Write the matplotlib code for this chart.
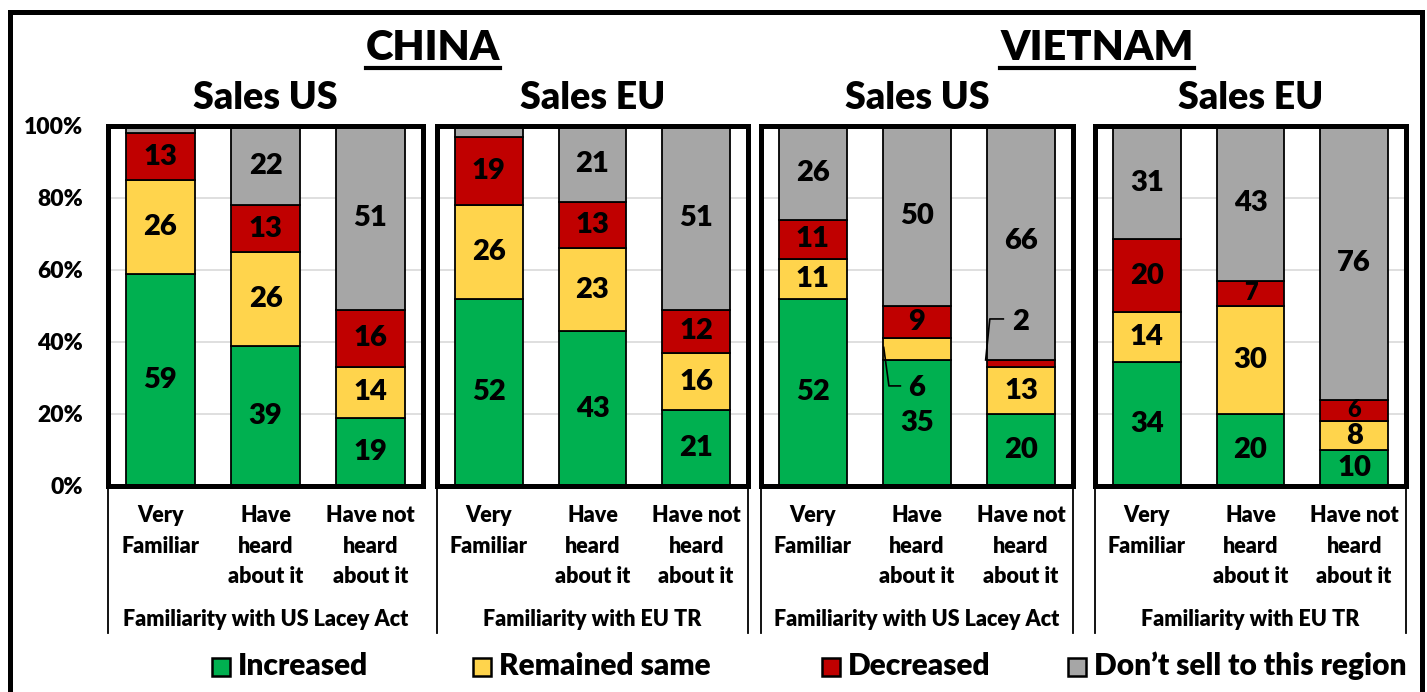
# Sales change vs. familiarity with timber legality rules
# China / Vietnam, stacked 100% bars

import matplotlib.pyplot as plt
from matplotlib.patches import Rectangle
from matplotlib.lines import Line2D

plt.rcParams['font.family'] = ['Lato', 'DejaVu Sans']
plt.rcParams['font.weight'] = 'heavy'
WT = "heavy"

# ==========================
# Data
# ==========================

categories = ["Very\nFamiliar", "Have\nheard\nabout it", "Have not\nheard\nabout it"]
countries = ["CHINA", "VIETNAM"]
panel_titles = ["Sales US", "Sales EU", "Sales US", "Sales EU"]
group_labels = ["Familiarity with US Lacey Act", "Familiarity with EU TR",
                "Familiarity with US Lacey Act", "Familiarity with EU TR"]
series_names = ["Increased", "Remained same", "Decreased", "Don\u2019t sell to this region"]
series_colors = ["#00B050", "#FFD44C", "#C00000", "#A6A6A6"]

increased = [[59, 39, 19], [52, 43, 21], [52, 35, 20], [34.4, 20, 10]]
same = [[26, 26, 14], [26, 23, 16], [11, 6, 13], [13.9, 30, 8]]
decreased = [[13, 13, 16], [19, 13, 12], [11, 9, 2], [20.3, 7, 6]]
dont_sell = [[2, 22, 51], [3, 21, 51], [26, 50, 66], [31.4, 43, 76]]

y_ticks = [0, 20, 40, 60, 80, 100]

# ==========================
# Layout (pixels)
# ==========================

W, H = 1427, 692
fig = plt.figure(figsize=(W / 100, H / 100), dpi=100)

panels_px = [(108, 423), (437, 748), (761, 1073), (1095, 1406)]
top_px, bot_px = 126, 486

def fx(x):
    return x / W

def fy(y):
    return 1 - y / H

# outer frame
fig.add_artist(Rectangle((fx(10), fy(720)), fx(1412), (720 - 12) / H,
                         fill=False, lw=3.6, ec="black", transform=fig.transFigure))

for p, (l, r) in enumerate(panels_px):
    ax = fig.add_axes([fx(l), fy(bot_px), fx(r - l), (bot_px - top_px) / H])
    series = [increased[p], same[p], decreased[p], dont_sell[p]]
    x = range(len(categories))
    bottom = [0, 0, 0]
    for s, vals in enumerate(series):
        ax.bar(x, vals, width=0.65, bottom=bottom, color=series_colors[s],
               edgecolor="black", linewidth=1.3, zorder=2)
        for i, v in enumerate(vals):
            outside = (p == 2 and ((s == 1 and i == 1) or (s == 2 and i == 2)))
            if v >= 6 and not outside:
                yc = bottom[i] + v / 2
                if yc < 100:
                    ax.text(i, yc, f"{v:.0f}", ha="center", va="center",
                            fontsize=17 if v < 8 else 21, fontweight=WT)
        bottom = [b + v for b, v in zip(bottom, vals)]

    ax.set_xlim(-0.5, 2.5)
    ax.set_ylim(0, 100)
    ax.set_yticks(y_ticks)
    ax.yaxis.grid(True, color="#D9D9D9", lw=1.2, zorder=0)
    ax.set_axisbelow(True)
    for sp in ax.spines.values():
        sp.set_linewidth(3.6)
    ax.set_xticks(list(x))
    ax.set_xticklabels(categories, fontsize=15.5, fontweight=WT, linespacing=1.55)
    ax.tick_params(axis="x", length=0, pad=14)
    ax.tick_params(axis="y", length=0, pad=18)
    if p == 0:
        ax.set_yticklabels([f"{t}%" for t in y_ticks], fontsize=16.5, fontweight=WT)
    else:
        ax.set_yticklabels([])

    # category axis lines and group label
    ext = -(633 - bot_px) / (bot_px - top_px)
    edges = (0,) if p == 0 else (0, 1)
    for xe in edges:
        ax.add_line(Line2D([xe, xe], [0, ext], transform=ax.transAxes,
                           color="black", lw=1.3, clip_on=False))
    ax.text(0.5, -(620 - bot_px) / (bot_px - top_px), group_labels[p],
            transform=ax.transAxes, ha="center", va="center", fontsize=15.5,
            fontweight=WT)

    fig.text(fx((l + r) / 2), fy(98), panel_titles[p], ha="center", va="center",
             fontsize=27, fontweight=WT)

    # leader-line labels for thin segments (Vietnam, Sales US)
    if p == 2:
        ax.plot([0.68, 0.73, 0.84], [38.5, 27.8, 27.8], color="black", lw=1.2,
                zorder=3, clip_on=False)
        ax.text(1.0, 27.2, str(same[p][1]), ha="center", va="center",
                fontsize=21, fontweight=WT)
        ax.plot([1.66, 1.70, 1.83], [35, 46.4, 46.4], color="black", lw=1.2,
                zorder=3, clip_on=False)
        ax.text(2.0, 45.5, str(decreased[p][2]), ha="center", va="center",
                fontsize=21, fontweight=WT)

# country headers (underlined)
fig.canvas.draw()
renderer = fig.canvas.get_renderer()
for name, xc in zip(countries, [433, 1097]):
    t = fig.text(fx(xc), fy(48), name, ha="center", va="center",
                 fontsize=30, fontweight=WT)
    bb = t.get_window_extent(renderer=renderer)
    fig.add_artist(Line2D([bb.x0 / W, bb.x1 / W], [fy(68), fy(68)],
                          transform=fig.transFigure, color="black", lw=3))

# ==========================
# Legend
# ==========================

legend_px = [212, 473, 822, 1068]
for name, color, lx in zip(series_names, series_colors, legend_px):
    fig.add_artist(Rectangle((fx(lx), fy(676)), fx(18), 18 / H, facecolor=color,
                             edgecolor="black", lw=1.8, transform=fig.transFigure))
    fig.text(fx(lx + 26), fy(666), name, ha="left", va="center",
             fontsize=21.5, fontweight=WT)

fig.savefig("out.png", dpi=100)
